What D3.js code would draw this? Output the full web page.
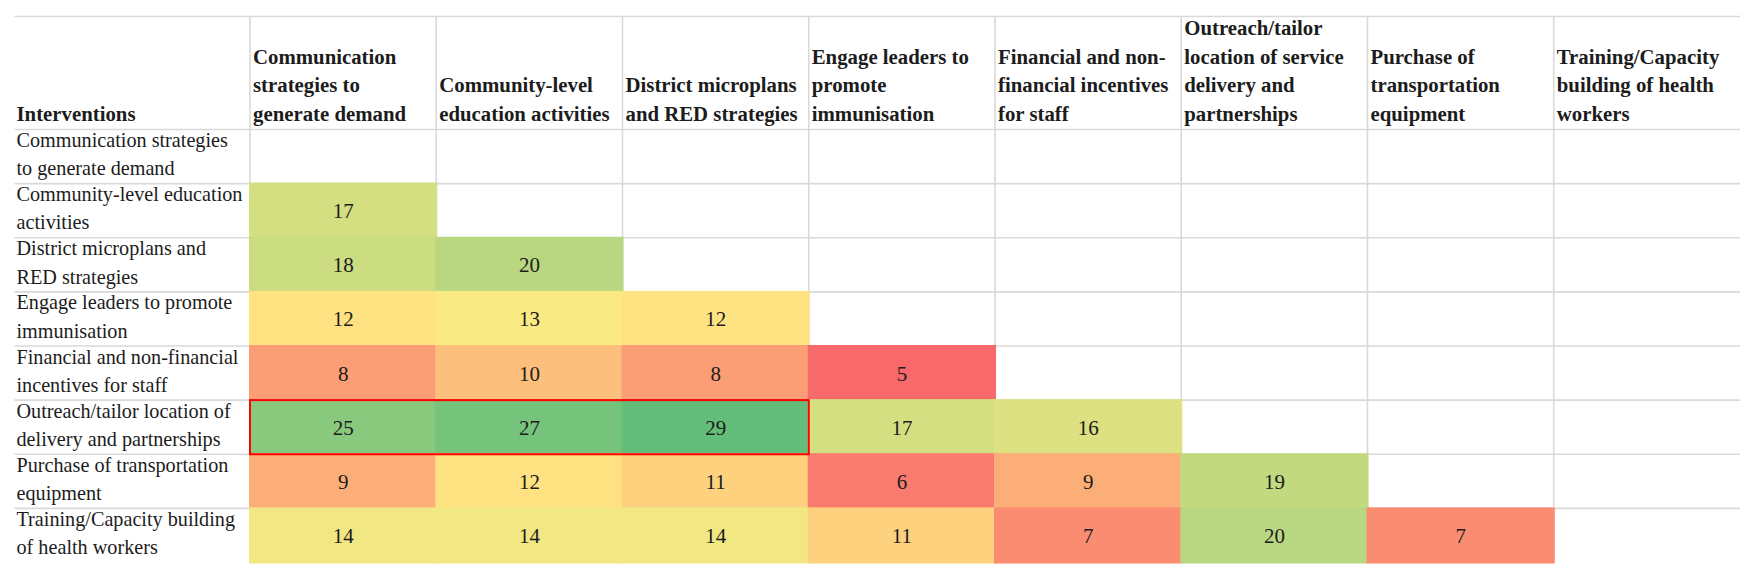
<!DOCTYPE html>
<html>
<head>
<meta charset="utf-8">
<script src="https://cdn.jsdelivr.net/npm/d3@7"></script>
<style>
  html, body { margin: 0; padding: 0; background: #ffffff; }
  svg { display: block; }
  text { font-family: "Liberation Serif", "Times New Roman", serif; fill: #1c1c1c; }
</style>
</head>
<body>
<svg id="chart" width="1750" height="581"></svg>
<script>
// ---- Data ----
const cornerLabel = "Interventions";

const columnLabels = [
  ["Communication", "strategies to", "generate demand"],
  ["Community-level", "education activities"],
  ["District microplans", "and RED strategies"],
  ["Engage leaders to", "promote", "immunisation"],
  ["Financial and non-", "financial incentives", "for staff"],
  ["Outreach/tailor", "location of service", "delivery and", "partnerships"],
  ["Purchase of", "transportation", "equipment"],
  ["Training/Capacity", "building of health", "workers"]
];

const rowLabels = [
  ["Communication strategies", "to generate demand"],
  ["Community-level education", "activities"],
  ["District microplans and", "RED strategies"],
  ["Engage leaders to promote", "immunisation"],
  ["Financial and non-financial", "incentives for staff"],
  ["Outreach/tailor location of", "delivery and partnerships"],
  ["Purchase of transportation", "equipment"],
  ["Training/Capacity building", "of health workers"]
];

// lower-triangular counts: row i has values for columns 0..i-1
const values = [
  [],
  [17],
  [18, 20],
  [12, 13, 12],
  [8, 10, 8, 5],
  [25, 27, 29, 17, 16],
  [9, 12, 11, 6, 9, 19],
  [14, 14, 14, 11, 7, 20, 7]
];

const highlightRow = 5;
const highlightCols = [0, 2];

const scaleColors = ["#F8696B", "#FFEB84", "#63BE7B"];

// ---- Layout ----
const tableLeft = 14.5;
const labelRight = 250;
const tableRight = 1740;
const headerTop = 16.5;
const headerBottom = 129.5;
const tableBottom = 562.5;
const headerGap = 28.4;
const labelGap = 28.3;
const labelSize = 20.2;
const headerSize = 20.8;
const valueSize = 21;
const gridColor = "#d9d9d9";

const svg = d3.select("#chart");

const x = d3.scaleBand()
  .domain(d3.range(columnLabels.length))
  .range([labelRight, tableRight]);

const y = d3.scaleBand()
  .domain(d3.range(rowLabels.length))
  .range([headerBottom, tableBottom]);

const flat = values.flat();
const color = d3.scaleLinear()
  .domain([d3.min(flat), d3.median(flat), d3.max(flat)])
  .range(scaleColors)
  .interpolate(d3.interpolateRgb);

// ---- Grid lines ----
const grid = svg.append("g").attr("stroke", gridColor).attr("stroke-width", 1.6);

// horizontal lines: top, header bottom, row separators (no bottom line)
const hLines = [headerTop, headerBottom].concat(d3.range(1, rowLabels.length).map(i => y(i)));
grid.selectAll("line.h").data(hLines).join("line")
  .attr("class", "h")
  .attr("x1", tableLeft).attr("x2", tableRight)
  .attr("y1", d => d).attr("y2", d => d);

// vertical lines at each column's left border
grid.selectAll("line.v").data(d3.range(columnLabels.length)).join("line")
  .attr("class", "v")
  .attr("x1", d => x(d)).attr("x2", d => x(d))
  .attr("y1", headerTop).attr("y2", tableBottom);

// ---- Cells ----
const cells = [];
values.forEach((row, i) => row.forEach((v, j) => cells.push({ row: i, col: j, value: v })));

const cellG = svg.append("g");
cellG.selectAll("rect").data(cells).join("rect")
  .attr("x", d => x(d.col) - 1)
  .attr("y", d => y(d.row) - 1)
  .attr("width", x.bandwidth() + 2)
  .attr("height", y.bandwidth() + 2)
  .attr("fill", d => color(d.value));

cellG.selectAll("text").data(cells).join("text")
  .attr("x", d => x(d.col) + x.bandwidth() / 2)
  .attr("y", d => y(d.row) + y.bandwidth() / 2 + 7.5)
  .attr("text-anchor", "middle")
  .attr("font-size", valueSize)
  .text(d => d.value);

// ---- Highlight box ----
svg.append("rect")
  .attr("x", x(highlightCols[0]))
  .attr("y", y(highlightRow))
  .attr("width", x(highlightCols[1]) + x.bandwidth() - x(highlightCols[0]))
  .attr("height", y.bandwidth())
  .attr("fill", "none")
  .attr("stroke", "#ff0000")
  .attr("stroke-width", 2);

// ---- Header ----
const header = svg.append("g").attr("font-weight", "bold").attr("font-size", headerSize);
header.append("text")
  .attr("x", tableLeft + 2)
  .attr("y", headerBottom - 9)
  .text(cornerLabel);

const colG = header.selectAll("g.col").data(columnLabels).join("g").attr("class", "col");
colG.each(function (lines, j) {
  const g = d3.select(this);
  const n = lines.length;
  g.selectAll("text").data(lines).join("text")
    .attr("x", x(j) + 3)
    .attr("y", (d, k) => headerBottom - 9 - (n - 1 - k) * headerGap)
    .text(d => d);
});

// ---- Row labels ----
const rowG = svg.append("g").attr("font-size", labelSize);
rowG.selectAll("g.row").data(rowLabels).join("g").attr("class", "row")
  .each(function (lines, i) {
    d3.select(this).selectAll("text").data(lines).join("text")
      .attr("x", tableLeft + 2)
      .attr("y", (d, k) => y(i) + 17.5 + k * labelGap)
      .text(d => d);
  });
</script>
</body>
</html>
